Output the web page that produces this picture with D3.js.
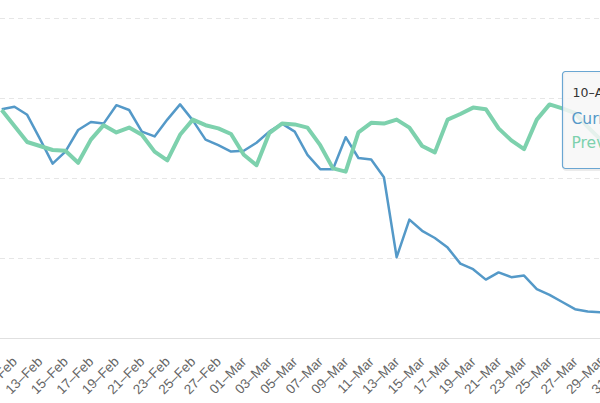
<!DOCTYPE html>
<html>
<head>
<meta charset="utf-8">
<script src="https://cdn.jsdelivr.net/npm/d3@7"></script>
<style>
  html, body { margin: 0; padding: 0; background: #fff; overflow: hidden; }
  svg { display: block; font-family: "DejaVu Sans", "Lucida Grande", Arial, sans-serif; }
</style>
</head>
<body>
<div id="chart"></div>
<script>
// one value per day, 10-Feb .. 29-Mar
const firstDay = "2021-02-10";
const lastDay = "2021-03-29";

const current = [
  286, 289, 279, 249, 218, 233, 260, 270, 268, 291,
  285, 258, 252, 273, 292, 272, 248, 241, 233, 234,
  244, 258, 268, 258, 229, 211, 211, 251, 225, 223,
  201, 101, 148, 134, 125, 113, 93, 86, 73, 82,
  76, 78, 61, 54, 45, 36, 33, 32
];

const previous = [
  285, 265, 245, 240, 235, 234, 219, 248, 266, 257,
  263, 254, 233, 222, 254, 273, 266, 262, 255, 229,
  216, 256, 268, 267, 263, 241, 212, 208, 257, 269,
  268, 273, 263, 240, 232, 273, 280, 288, 286, 262,
  247, 236, 273, 292, 287, 281, 264, 248
];

const tickDays = [
  "2021-02-11", "2021-02-13", "2021-02-15", "2021-02-17", "2021-02-19",
  "2021-02-21", "2021-02-23", "2021-02-25", "2021-02-27", "2021-03-01",
  "2021-03-03", "2021-03-05", "2021-03-07", "2021-03-09", "2021-03-11",
  "2021-03-13", "2021-03-15", "2021-03-17", "2021-03-19", "2021-03-21",
  "2021-03-23", "2021-03-25", "2021-03-27", "2021-03-29", "2021-03-31"
];

const gridValues = [100, 200, 300, 400];

const tooltipLines = ["10–Apr", "Current: 30", "Previous: 236"];

const width = 600;
const height = 403;
const blue = "#5499c8";
const green = "#7dd1ad";

const parse = d3.utcParse("%Y-%m-%d");
const fmt = d3.utcFormat("%d–%b");
const days = d3.utcDay.range(parse(firstDay), d3.utcDay.offset(parse(lastDay), 1));

const svg = d3.select("#chart")
  .append("svg")
  .attr("width", width)
  .attr("height", height);

const x = d3.scaleUtc()
  .domain([days[0], days[days.length - 1]])
  .range([1.7, 600.5]);

const y = d3.scaleLinear()
  .domain([0, 400])
  .range([338, 18]);

// Gridlines
svg.append("g")
  .selectAll("line")
  .data(gridValues)
  .enter()
  .append("line")
  .attr("x1", 0)
  .attr("x2", width)
  .attr("y1", d => Math.round(y(d)) + 0.5)
  .attr("y2", d => Math.round(y(d)) + 0.5)
  .attr("stroke", "#e6e6e6")
  .attr("stroke-dasharray", "5,4");

// X axis
const xAxis = d3.axisBottom(x)
  .tickValues(tickDays.map(parse))
  .tickSize(0)
  .tickFormat(fmt);

const xAxisG = svg.append("g")
  .attr("transform", `translate(0,${Math.round(y(0)) + 0.5})`)
  .call(xAxis);

xAxisG.select(".domain")
  .attr("d", `M0,0H${width}`)
  .attr("stroke", "#e0e0e0");

xAxisG.selectAll(".tick text")
  .attr("y", 0)
  .attr("dy", 0)
  .attr("transform", "translate(3,24) rotate(-45)")
  .style("text-anchor", "end")
  .style("font-size", "13.5px")
  .attr("fill", "#666");

// Lines
const line = d3.line()
  .x((d, i) => x(days[i]))
  .y(d => y(d));

svg.append("path")
  .datum(current)
  .attr("fill", "none")
  .attr("stroke", blue)
  .attr("stroke-width", 2.5)
  .attr("stroke-linejoin", "round")
  .attr("d", line);

svg.append("path")
  .datum(previous)
  .attr("fill", "none")
  .attr("stroke", green)
  .attr("stroke-width", 4)
  .attr("stroke-linejoin", "round")
  .attr("d", line);

// Tooltip
const tip = svg.append("g")
  .attr("transform", "translate(562.5,71.5)");

tip.append("rect")
  .attr("x", 1).attr("y", 1)
  .attr("width", 160).attr("height", 97)
  .attr("rx", 3)
  .attr("fill", "none")
  .attr("stroke", "rgba(0,0,0,0.08)")
  .attr("stroke-width", 3);

tip.append("rect")
  .attr("width", 160).attr("height", 97)
  .attr("rx", 3)
  .attr("fill", "rgba(247,247,247,0.85)")
  .attr("stroke", "#6aa6d2")
  .attr("stroke-width", 1.2);

tip.append("text")
  .attr("x", 10).attr("y", 25.5)
  .style("font-size", "12.5px")
  .attr("fill", "#333")
  .text(tooltipLines[0]);

tip.append("text")
  .attr("x", 9).attr("y", 52.5)
  .style("font-size", "15.5px")
  .attr("fill", blue)
  .text(tooltipLines[1]);

tip.append("text")
  .attr("x", 9).attr("y", 76.5)
  .style("font-size", "15.5px")
  .attr("fill", green)
  .text(tooltipLines[2]);
</script>
</body>
</html>
